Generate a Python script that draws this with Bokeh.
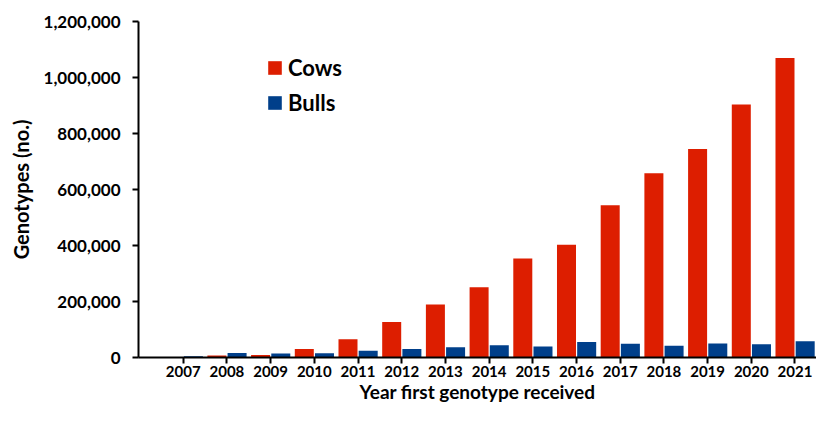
from bokeh.plotting import figure
from bokeh.models import (Range1d, FixedTicker, NumeralTickFormatter, Legend,
                          LegendItem, ColumnDataSource)
from bokeh.transform import dodge
from bokeh.embed import file_html
from bokeh.resources import INLINE

# ---- data ----
years = [2007, 2008, 2009, 2010, 2011, 2012, 2013, 2014,
         2015, 2016, 2017, 2018, 2019, 2020, 2021]
year_labels = ["2007", "2008", "2009", "2010", "2011", "2012", "2013", "2014",
               "2015", "2016", "2017", "2018", "2019", "2020", "2021"]
cows = [2000, 7000, 9000, 30000, 65000, 127000, 189000, 251000,
        354000, 403000, 544000, 658000, 745000, 904000, 1070000]
bulls = [4500, 16000, 14000, 15000, 24000, 30000, 37000, 44000,
         39000, 55000, 49000, 42000, 50000, 47000, 58000]
y_ticks = [0, 200000, 400000, 600000, 800000, 1000000, 1200000]
series_names = ["Cows", "Bulls"]

RED = "#DD1E00"
BLUE = "#003F8A"
FONT = "Lato"

src = ColumnDataSource(dict(x=years, cows=cows, bulls=bulls))

p = figure(width=816, height=405, output_backend="svg", toolbar_location=None,
           x_range=Range1d(2005.977, 2021.492), y_range=Range1d(0, 1200000),
           min_border_left=138, min_border_right=0, min_border_top=21,
           min_border_bottom=0)
p.outline_line_color = None
p.xgrid.visible = False
p.ygrid.visible = False
p.background_fill_color = "white"
p.border_fill_color = "white"

r_cows = p.vbar(x=dodge("x", -0.229, range=p.x_range), top="cows", width=0.435,
                source=src, fill_color=RED, line_color=None)
r_bulls = p.vbar(x=dodge("x", 0.233, range=p.x_range), top="bulls", width=0.435,
                 source=src, fill_color=BLUE, line_color=None)

# axes
xa = p.xaxis[0]
xa.ticker = FixedTicker(ticks=years)
xa.major_label_overrides = {y: s for y, s in zip(years, year_labels)}
xa.minor_tick_line_color = None
xa.major_tick_in = 0
xa.major_tick_out = 6
xa.axis_line_width = 2
xa.major_tick_line_width = 2
xa.major_label_standoff = 2
xa.major_label_text_font = FONT
xa.major_label_text_font_style = "bold"
xa.major_label_text_font_size = "15px"
xa.major_label_text_color = "black"
xa.axis_label = "Year first genotype received"
xa.axis_label_text_font = FONT
xa.axis_label_text_font_style = "bold"
xa.axis_label_text_font_size = "19px"
xa.axis_label_standoff = 0
xa.axis_label_text_color = "black"

ya = p.yaxis[0]
ya.ticker = FixedTicker(ticks=y_ticks)
ya.formatter = NumeralTickFormatter(format="0,0")
ya.minor_tick_line_color = None
ya.major_tick_in = 0
ya.major_tick_out = 6
ya.axis_line_width = 2
ya.major_tick_line_width = 2
ya.major_label_standoff = 12
ya.major_label_text_font = FONT
ya.major_label_text_font_style = "bold"
ya.major_label_text_font_size = "17px"
ya.major_label_text_color = "black"
ya.axis_label = "Genotypes (no.)"
ya.axis_label_text_font = FONT
ya.axis_label_text_font_style = "bold"
ya.axis_label_text_font_size = "20px"
ya.axis_label_standoff = 8
ya.axis_label_text_color = "black"

legend = Legend(items=[LegendItem(label=series_names[0], renderers=[r_cows]),
                       LegendItem(label=series_names[1], renderers=[r_bulls])],
                location=(128, 241), orientation="vertical",
                glyph_width=17, glyph_height=17, label_standoff=5,
                label_text_font=FONT, label_text_font_style="bold",
                label_text_font_size="22px", label_text_color="black",
                spacing=8, padding=0, margin=0,
                border_line_color=None, background_fill_alpha=0)
p.add_layout(legend)

open("out.html", "w").write(file_html(p, INLINE))
